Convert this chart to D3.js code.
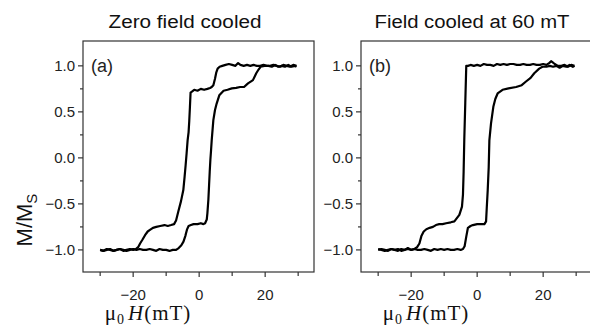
<!DOCTYPE html>
<html>
<head>
<meta charset="utf-8">
<script src="https://cdn.jsdelivr.net/npm/d3@7"></script>
<style>
  body { margin: 0; background: #fff; }
  svg { display: block; }
  .tick-label { font-family: "Liberation Sans", Arial, sans-serif; font-size: 15px; fill: #222; }
  .title { font-family: "Liberation Sans", Arial, sans-serif; font-size: 18px; fill: #111; }
  .xlab { font-family: "Liberation Serif", "Times New Roman", serif; font-size: 21px; fill: #111; }
  .ylab { font-family: "Liberation Sans", Arial, sans-serif; font-size: 22px; fill: #111; }
</style>
</head>
<body>
<div id="chart"></div>
<script>
// Panel (a) zero field cooled - descending branch (+30 -> -30)
const aDownH = [29.5, 28.5, 27.5, 26.5, 25.5, 24.5, 23.5, 22.5, 21.5, 20.5, 19.5, 18.5, 17.5, 16.5, 15.5, 14.5, 13.5, 12.5, 11.8, 11, 10, 9, 8, 7, 6.2, 5.6, 5.2, 4.8, 4.3, 3.8, 3.3, 2.5, 1.5, 0.5, -0.5, -1.5, -2.2, -2.6, -2.8, -3.0, -3.2, -3.5, -3.8, -4.1, -4.4, -4.8, -5.5, -6.3, -7.0, -7.6, -8.5, -9.5, -10.5, -11.8, -13, -14, -14.8, -15.6, -16.4, -17.2, -17.9, -18.5, -19.2, -20, -21, -22, -23, -24, -25, -26, -27, -28, -29, -30];
const aDownM = [1.0, 1.01, 0.99, 1.0, 1.01, 0.99, 1.0, 1.01, 1.0, 1.0, 1.01, 1.0, 1.0, 1.01, 1.0, 1.01, 1.0, 1.01, 1.03, 1.0, 1.01, 1.02, 1.01, 1.0, 0.99, 0.97, 0.93, 0.86, 0.79, 0.77, 0.76, 0.75, 0.74, 0.75, 0.73, 0.74, 0.72, 0.71, 0.55, 0.40, 0.28, 0.19, 0.05, -0.08, -0.2, -0.35, -0.47, -0.58, -0.68, -0.72, -0.73, -0.74, -0.73, -0.74, -0.75, -0.76, -0.78, -0.8, -0.84, -0.89, -0.93, -0.97, -0.99, -1.0, -0.99, -1.0, -1.01, -0.99, -1.0, -1.01, -0.99, -1.0, -1.01, -1.0];
// Panel (a) - ascending branch (-30 -> +30)
const aUpH = [-30, -29, -28, -27, -26, -25, -24, -23, -22, -21, -20, -19, -18, -17, -16, -15, -14, -13, -12, -11, -10, -9, -8.8, -8, -7, -6.2, -5.4, -4.75, -4.2, -3.7, -3.2, -2.5, -1.7, -0.5, 0.5, 1.3, 1.8, 2.3, 2.5, 2.8, 3.0, 3.2, 3.4, 3.6, 3.8, 4.3, 4.8, 5.3, 6.1, 7.4, 8.6, 9.9, 11.2, 12.4, 13.6, 14.8, 16.3, 17.3, 18.0, 18.6, 19.8, 21, 22, 23, 24, 25, 26, 27, 28, 29, 29.5];
const aUpM = [-1.0, -1.01, -0.99, -1.0, -1.01, -1.0, -0.99, -1.0, -1.01, -1.0, -0.99, -1.0, -0.99, -1.0, -1.0, -0.99, -1.0, -1.01, -0.99, -1.0, -1.0, -1.01, -1.01, -1.0, -1.0, -0.98, -0.95, -0.91, -0.85, -0.78, -0.74, -0.73, -0.72, -0.72, -0.71, -0.72, -0.71, -0.67, -0.6, -0.45, -0.3, -0.15, -0.02, 0.08, 0.19, 0.41, 0.52, 0.59, 0.68, 0.73, 0.74, 0.755, 0.76, 0.77, 0.77, 0.81, 0.845, 0.92, 0.96, 0.99, 1.0, 1.0, 0.99, 1.01, 0.99, 1.0, 0.99, 1.01, 0.99, 1.0, 0.99];

// Panel (b) field cooled at 60 mT - descending branch
const bDownH = [29.5, 28.5, 27.5, 26.5, 25.5, 24.5, 23.5, 22.8, 22.4, 21.8, 21, 20, 19, 18, 17, 16, 15, 14, 13, 12, 11, 10, 9, 8, 7, 6, 5, 4, 3, 2, 1, 0, -1, -2, -2.8, -3.3, -3.6, -3.9, -4.1, -4.3, -4.6, -5.4, -6.9, -8, -9.4, -10.5, -11.5, -12.5, -13.4, -14.4, -15.4, -16.2, -16.9, -17.5, -18.2, -19, -20, -21, -22, -23, -24, -25, -26, -27, -28, -29, -30];
const bDownM = [1.0, 1.01, 0.99, 1.01, 1.0, 1.0, 1.02, 1.04, 1.05, 1.03, 1.01, 1.02, 1.01, 1.01, 1.02, 1.01, 1.01, 1.02, 1.01, 1.01, 1.02, 1.02, 1.01, 1.02, 1.01, 1.02, 1.0, 1.01, 1.01, 1.02, 1.0, 1.01, 1.0, 1.01, 1.0, 1.0, 0.6, 0.2, -0.15, -0.4, -0.53, -0.62, -0.69, -0.7, -0.71, -0.72, -0.72, -0.73, -0.75, -0.76, -0.775, -0.8, -0.85, -0.93, -0.97, -0.99, -1.0, -0.98, -1.0, -1.01, -0.99, -1.0, -0.99, -1.01, -1.0, -0.99, -1.0];
// Panel (b) - ascending branch
const bUpH = [-30, -29, -28, -27, -26, -25, -24, -23, -22, -21, -20, -19, -18, -17, -16, -15, -14, -13, -12, -11, -10, -9, -8, -7, -6, -5, -4.3, -3.8, -3.3, -2.8, -2.0, -1.3, 0, 1.2, 2.2, 2.7, 2.9, 3.2, 3.5, 3.7, 4.2, 4.9, 5.5, 6.2, 7.7, 9.5, 11.8, 13.5, 14.8, 16.2, 17.3, 18.8, 19.8, 21, 22, 23, 24, 25, 26, 27, 28, 29, 29.5];
const bUpM = [-0.99, -1.0, -1.01, -1.0, -0.99, -1.0, -1.01, -0.99, -1.0, -0.99, -1.0, -0.99, -1.0, -1.0, -0.99, -1.0, -1.01, -0.99, -1.0, -0.99, -1.0, -0.99, -1.0, -1.0, -0.99, -1.0, -0.99, -0.96, -0.855, -0.76, -0.74, -0.73, -0.72, -0.72, -0.72, -0.69, -0.55, -0.35, -0.1, 0.19, 0.375, 0.555, 0.64, 0.7, 0.74, 0.755, 0.77, 0.79, 0.83, 0.87, 0.92, 0.97, 0.99, 0.99, 1.0, 0.99, 1.0, 0.98, 1.0, 0.99, 1.01, 0.99, 1.0];

const panels = [
  { id: "a", title: "Zero field cooled", left: 83, titleX: 185, titleW: 153,
    branches: [[aDownH, aDownM], [aUpH, aUpM]] },
  { id: "b", title: "Field cooled at 60 mT", left: 361, titleX: 472, titleW: 195,
    branches: [[bDownH, bDownM], [bUpH, bUpM]] }
];

const xMajor = [-20, 0, 20];
const xMinor = [-30, -10, 10, 30];
const yMajor = [-1.0, -0.5, 0.0, 0.5, 1.0];
const yMinor = [-0.75, -0.25, 0.25, 0.75];

const W = 590, H = 331;
const plotTop = 41, plotBottom = 272, plotW = 231;

const svg = d3.select("#chart").append("svg")
  .attr("width", W)
  .attr("height", H);

const y = d3.scaleLinear().domain([-1.24, 1.27]).range([plotBottom, plotTop]);

panels.forEach(function(p) {
  const x = d3.scaleLinear().domain([-35.2, 34.8]).range([p.left, p.left + plotW]);
  const g = svg.append("g");

  // frame
  g.append("rect")
    .attr("x", p.left).attr("y", plotTop)
    .attr("width", plotW).attr("height", plotBottom - plotTop)
    .attr("fill", "none").attr("stroke", "#333").attr("stroke-width", 1.2);

  // x ticks
  g.selectAll(".xmaj").data(xMajor).enter().append("line")
    .attr("x1", d => x(d)).attr("x2", d => x(d))
    .attr("y1", plotBottom).attr("y2", plotBottom + 5)
    .attr("stroke", "#333").attr("stroke-width", 1.2);
  g.selectAll(".xmin").data(xMinor).enter().append("line")
    .attr("x1", d => x(d)).attr("x2", d => x(d))
    .attr("y1", plotBottom).attr("y2", plotBottom + 4)
    .attr("stroke", "#333").attr("stroke-width", 1.2);
  g.selectAll(".xlbl").data(xMajor).enter().append("text")
    .attr("class", "tick-label")
    .attr("x", d => x(d)).attr("y", plotBottom + 28)
    .attr("text-anchor", "middle")
    .text(d => d3.format("d")(d));

  // y ticks
  g.selectAll(".ymaj").data(yMajor).enter().append("line")
    .attr("x1", p.left - 5).attr("x2", p.left)
    .attr("y1", d => y(d)).attr("y2", d => y(d))
    .attr("stroke", "#333").attr("stroke-width", 1.2);
  g.selectAll(".ymin").data(yMinor).enter().append("line")
    .attr("x1", p.left - 3).attr("x2", p.left)
    .attr("y1", d => y(d)).attr("y2", d => y(d))
    .attr("stroke", "#333").attr("stroke-width", 1.2);
  g.selectAll(".ylbl").data(yMajor).enter().append("text")
    .attr("class", "tick-label")
    .attr("x", p.left - 8).attr("y", d => y(d) + 5)
    .attr("text-anchor", "end")
    .text(d => d3.format(".1f")(d));

  // curves
  const line = d3.line()
    .x(d => x(d[0]))
    .y(d => y(d[1]));
  p.branches.forEach(function(b) {
    const pts = b[0].map((h, i) => [h, b[1][i]]);
    g.append("path")
      .datum(pts)
      .attr("fill", "none")
      .attr("stroke", "#000")
      .attr("stroke-width", 2.2)
      .attr("stroke-linejoin", "round")
      .attr("d", line);
  });

  // panel letter
  g.append("text")
    .attr("class", "tick-label")
    .attr("x", p.left + 8).attr("y", y(1.0) + 6)
    .style("font-size", "18px")
    .text(p.id === "a" ? "(a)" : "(b)");

  // title
  g.append("text")
    .attr("class", "title")
    .attr("x", p.titleX).attr("y", 28)
    .attr("text-anchor", "middle")
    .attr("textLength", p.titleW)
    .attr("lengthAdjust", "spacingAndGlyphs")
    .text(p.title);

  // x label: mu_0 H (mT)
  const xl = g.append("text")
    .attr("class", "xlab")
    .attr("x", p.left + 65).attr("y", 320)
    .attr("text-anchor", "middle")
    .style("letter-spacing", "1px");
  xl.append("tspan").text("μ");
  xl.append("tspan").attr("dy", 4).style("font-size", "14px").text("0");
  xl.append("tspan").attr("dy", -4).attr("dx", 3).style("font-style", "italic").text("H");
  xl.append("tspan").text("(mT)");
});

// y label M/M_S
const yl = svg.append("text")
  .attr("class", "ylab")
  .attr("transform", "translate(32,220) rotate(-90)")
  .attr("text-anchor", "middle");
yl.append("tspan").text("M/M");
yl.append("tspan").attr("dy", 5).style("font-size", "15px").text("S");
</script>
</body>
</html>
